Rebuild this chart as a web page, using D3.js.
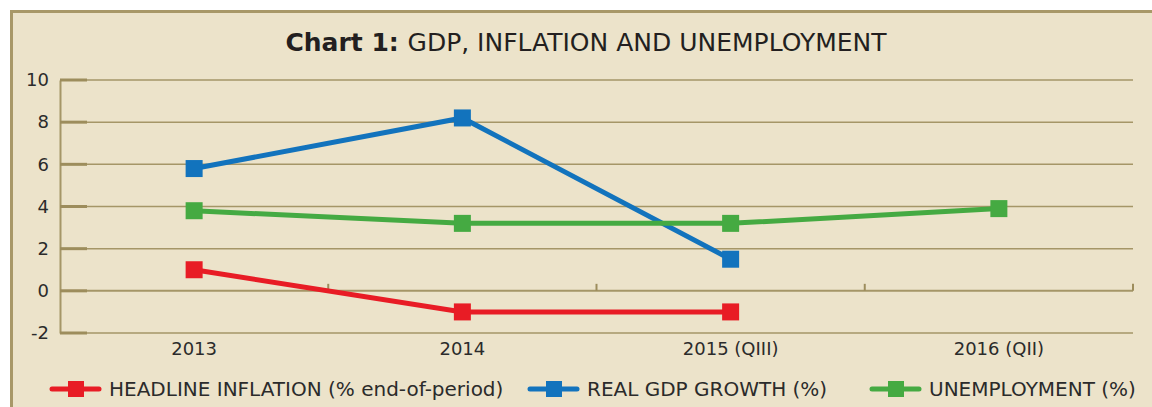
<!DOCTYPE html>
<html><head><meta charset="utf-8">
<script src="https://cdn.jsdelivr.net/npm/d3@7"></script>
<style>body{margin:0;background:#fff;}svg{display:block;}</style>
</head><body>
<svg id="c" width="1152" height="407"></svg>
<script>
const categories = ["2013", "2014", "2015 (QIII)", "2016 (QII)"];
const inflation = [1.0, -1.0, -1.0, null];
const gdp = [5.8, 8.2, 1.5, null];
const unemployment = [3.8, 3.2, 3.2, 3.9];
const yTicks = [-2, 0, 2, 4, 6, 8, 10];
const seriesNames = ["HEADLINE INFLATION (% end-of-period)", "REAL GDP GROWTH (%)", "UNEMPLOYMENT (%)"];
const seriesColors = ["#e81c25", "#1273bd", "#45aa42"];

const svg = d3.select("#c");
const font = "'DejaVu Sans', sans-serif";
svg.append("rect").attr("x", 0).attr("y", 0).attr("width", 1152).attr("height", 407).attr("fill", "#fff");
svg.append("rect").attr("x", 11.5).attr("y", 11.5).attr("width", 1160).attr("height", 420)
  .attr("fill", "#ece3ca").attr("stroke", "#a89868").attr("stroke-width", 3);

const L = 60, R = 1133, T = 80, B = 333;
const x = d3.scaleBand().domain(categories).range([L, R]);
const y = d3.scaleLinear().domain([-2, 10]).range([B, T]);

// gridlines
svg.append("g").selectAll("line").data(yTicks).join("line")
  .attr("x1", L).attr("x2", R).attr("y1", d => y(d)).attr("y2", d => y(d))
  .attr("stroke", "#a59667").attr("stroke-width", d => d === 0 ? 2 : 1.5);

// y axis
const ya = svg.append("g").attr("transform", `translate(${L},0)`)
  .call(d3.axisLeft(y).tickValues(yTicks).tickSize(0).tickPadding(11).tickFormat(d => String(d)));
ya.select(".domain").attr("stroke", "#a59667").attr("stroke-width", 2);
ya.selectAll("text").attr("font-family", font).attr("font-size", 18).attr("fill", "#2b2b2b");
svg.append("g").selectAll("line").data(yTicks).join("line")
  .attr("x1", L).attr("x2", L + 27).attr("y1", d => y(d)).attr("y2", d => y(d))
  .attr("stroke", "#9d8d5c").attr("stroke-width", 3);

// category tick marks on zero line
const bounds = categories.map(c => x(c) + x.bandwidth());
svg.append("g").selectAll("line").data(bounds).join("line")
  .attr("x1", d => d).attr("x2", d => d).attr("y1", y(0)).attr("y2", y(0) - 7)
  .attr("stroke", "#9d8d5c").attr("stroke-width", 2);

// x labels
const xa = svg.append("g").attr("transform", `translate(0,${B})`)
  .call(d3.axisBottom(x).tickSize(0).tickPadding(9));
xa.select(".domain").remove();
xa.selectAll("text").attr("font-family", font).attr("font-size", 18).attr("fill", "#2b2b2b");

// series
const all = [inflation, gdp, unemployment];
const line = d3.line().defined(d => d.v != null).x(d => x(d.c) + x.bandwidth() / 2).y(d => y(d.v));
all.forEach((s, i) => {
  const pts = s.map((v, j) => ({ c: categories[j], v }));
  svg.append("path").datum(pts).attr("d", line).attr("fill", "none")
    .attr("stroke", seriesColors[i]).attr("stroke-width", 5);
  svg.append("g").selectAll("rect").data(pts.filter(d => d.v != null)).join("rect")
    .attr("x", d => x(d.c) + x.bandwidth() / 2 - 8.5).attr("y", d => y(d.v) - 8.5)
    .attr("width", 17).attr("height", 17).attr("fill", seriesColors[i]);
});

// title
const t = svg.append("text").attr("x", 586).attr("y", 51).attr("text-anchor", "middle")
  .attr("font-family", font).attr("font-size", 25).attr("fill", "#231f20");
t.append("tspan").attr("font-weight", "bold").text("Chart 1: ");
t.append("tspan").text("GDP, INFLATION AND UNEMPLOYMENT");

// legend
const legX = [52, 530, 872];
const lg = svg.append("g");
seriesNames.forEach((n, i) => {
  const g = lg.append("g").attr("transform", `translate(${legX[i]},389)`);
  g.append("line").attr("x1", 0).attr("x2", 47).attr("y1", 0).attr("y2", 0)
    .attr("stroke", seriesColors[i]).attr("stroke-width", 5).attr("stroke-linecap", "round");
  g.append("rect").attr("x", 16).attr("y", -8).attr("width", 16).attr("height", 16).attr("fill", seriesColors[i]);
  g.append("text").attr("x", 57).attr("y", 7).attr("font-family", font).attr("font-size", 20)
    .attr("fill", "#2b2b2b").text(n);
});
</script>
</body></html>
